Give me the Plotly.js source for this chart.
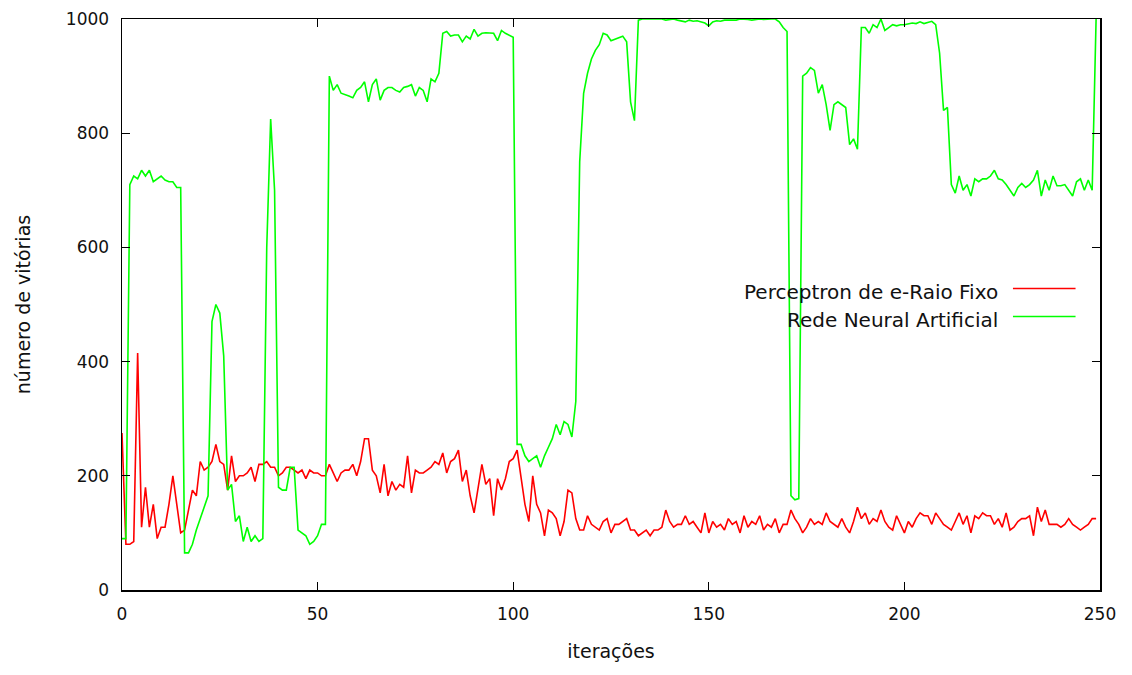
<!DOCTYPE html>
<html>
<head>
<meta charset="utf-8">
<script src="https://cdn.plot.ly/plotly-3.0.1.min.js"></script>
<style>html,body{margin:0;padding:0;background:#fff;}#chart{width:1132px;height:675px;}</style>
</head>
<body>
<div id="chart"></div>
<script>
// Perceptron de e-Raio Fixo (red), iterations 0..249
const perceptron = [
 275, 80, 80, 85, 415, 110, 180, 110, 150, 90,
 110, 110, 150, 200, 150, 100, 105, 140, 175, 165,
 225, 210, 215, 225, 255, 225, 220, 175, 235, 190,
 200, 200, 205, 215, 190, 220, 220, 225, 215, 215,
 200, 205, 215, 215, 210, 205, 210, 195, 210, 205,
 205, 200, 200, 220, 205, 190, 205, 210, 210, 220,
 200, 225, 265, 265, 210, 200, 170, 220, 165, 190,
 175, 185, 180, 235, 170, 210, 205, 205, 210, 215,
 225, 220, 240, 205, 225, 230, 245, 190, 210, 165,
 135, 180, 220, 185, 195, 130, 195, 175, 195, 225,
 230, 245, 200, 150, 120, 200, 150, 135, 95, 140,
 135, 125, 95, 120, 175, 170, 125, 105, 105, 130,
 115, 110, 105, 120, 125, 100, 115, 115, 120, 125,
 105, 105, 95, 100, 105, 95, 105, 105, 110, 140,
 120, 110, 115, 115, 130, 115, 120, 110, 100, 135,
 100, 120, 110, 115, 105, 125, 115, 120, 100, 130,
 110, 120, 115, 130, 105, 115, 110, 125, 100, 115,
 115, 140, 125, 115, 100, 110, 125, 115, 120, 115,
 135, 120, 115, 110, 125, 110, 100, 120, 145, 125,
 135, 115, 125, 120, 140, 120, 110, 105, 130, 115,
 100, 120, 110, 125, 135, 130, 130, 115, 135, 125,
 115, 110, 105, 120, 135, 115, 130, 100, 130, 125,
 135, 130, 130, 115, 125, 110, 135, 105, 110, 120,
 125, 125, 130, 95, 145, 120, 140, 115, 115, 115,
 110, 115, 125, 115, 110, 105, 110, 115, 125, 125
];
// Rede Neural Artificial (green), iterations 0..249
const redeNeural = [
 90, 90, 710, 725, 720, 735, 725, 735, 715, 720,
 725, 718, 715, 715, 705, 705, 65, 65, 80, 105,
 125, 145, 165, 470, 500, 485, 410, 175, 185, 120,
 130, 85, 110, 85, 95, 85, 90, 600, 825, 700,
 180, 175, 175, 215, 215, 105, 100, 95, 80, 85,
 95, 115, 115, 900, 875, 885, 870, 868, 865, 862,
 875, 880, 890, 855, 885, 895, 858, 875, 880, 880,
 875, 872, 880, 882, 885, 865, 880, 875, 855, 895,
 890, 905, 975, 978, 970, 972, 972, 960, 970, 965,
 982, 970, 975, 976, 975, 975, 962, 980, 975, 972,
 968, 255, 255, 235, 225, 230, 235, 215, 235, 250,
 265, 290, 272, 295, 290, 268, 330, 750, 870, 905,
 930, 945, 955, 975, 972, 962, 965, 968, 970, 960,
 855, 822, 998, 1000, 1000, 1000, 999, 1000, 1000, 998,
 999, 1000, 998, 997, 995, 998, 996, 997, 995, 993,
 988, 995, 997, 996, 998, 998, 999, 998, 1000, 1000,
 999, 998, 999, 1000, 999, 1000, 1000, 1000, 995, 985,
 978, 165, 158, 160, 900, 905, 915, 910, 870, 885,
 850, 805, 850, 855, 850, 845, 780, 790, 772, 985,
 985, 975, 990, 985, 1000, 980, 985, 990, 988, 990,
 990, 992, 993, 992, 995, 992, 994, 996, 990, 940,
 840, 845, 710, 695, 725, 700, 710, 690, 720, 715,
 720, 720, 725, 735, 720, 718, 710, 700, 690, 705,
 712, 705, 710, 718, 735, 690, 718, 700, 725, 708,
 708, 710, 700, 690, 715, 720, 700, 718, 700, 1000
];
const iteracoes = perceptron.map((_, i) => i);
const xTicks = [0, 50, 100, 150, 200, 250];
const yTicks = [0, 200, 400, 600, 800, 1000];
const seriesNames = ['Perceptron de e-Raio Fixo', 'Rede Neural Artificial'];

const RED = '#ff0000', GREEN = '#00ff00';
const textFont = {family: 'DejaVu Sans, Verdana, sans-serif', size: 19, color: '#111'};
const legendFont = {family: 'DejaVu Sans, Verdana, sans-serif', size: 20, color: '#111'};
const tickFont = {family: 'DejaVu Sans, Verdana, sans-serif', size: 17, color: '#111'};

const traces = [
  {x: iteracoes, y: perceptron, type: 'scatter', mode: 'lines', name: seriesNames[0],
   line: {color: RED, width: 1.6}, showlegend: false},
  {x: iteracoes, y: redeNeural, type: 'scatter', mode: 'lines', name: seriesNames[1],
   line: {color: GREEN, width: 1.6}, showlegend: false}
];

const legendLineY = [0.528, 0.479];
const legendTextY = [0.522, 0.473];
const legendColors = [RED, GREEN];
const annotations = seriesNames.map((n, k) => ({
  xref: 'paper', yref: 'paper', x: 0.898, y: legendTextY[k], xanchor: 'right', yanchor: 'middle',
  text: n, showarrow: false, font: legendFont
}));
const shapes = seriesNames.map((n, k) => ({
  type: 'line', xref: 'paper', yref: 'paper', x0: 0.911, x1: 0.975, y0: legendLineY[k], y1: legendLineY[k],
  line: {color: legendColors[k], width: 1.6}
}));

const layout = {
  width: 1132, height: 675,
  margin: {l: 122, r: 32, t: 19, b: 85, pad: 0},
  paper_bgcolor: '#fff', plot_bgcolor: '#fff',
  showlegend: false,
  xaxis: {
    range: [0, 250], tickvals: xTicks, ticktext: xTicks.map(String),
    ticks: 'inside', ticklen: 8, tickcolor: '#000', tickwidth: 1,
    showline: true, linecolor: '#000', linewidth: 1.5, mirror: 'ticks',
    showgrid: false, zeroline: false, tickfont: tickFont, ticklabelstandoff: 8,
    title: {text: 'iterações', font: textFont, standoff: 22}, automargin: false
  },
  yaxis: {
    range: [0, 1000], tickvals: yTicks, ticktext: yTicks.map(String),
    ticks: 'inside', ticklen: 8, tickcolor: '#000', tickwidth: 1,
    showline: true, linecolor: '#000', linewidth: 1.5, mirror: 'ticks',
    showgrid: false, zeroline: false, tickfont: tickFont, ticklabelstandoff: 8,
    title: {text: 'número de vitórias', font: textFont, standoff: 30}, automargin: false
  },
  annotations: annotations,
  shapes: shapes
};

Plotly.newPlot('chart', traces, layout, {displayModeBar: false, staticPlot: true});
</script>
</body>
</html>
